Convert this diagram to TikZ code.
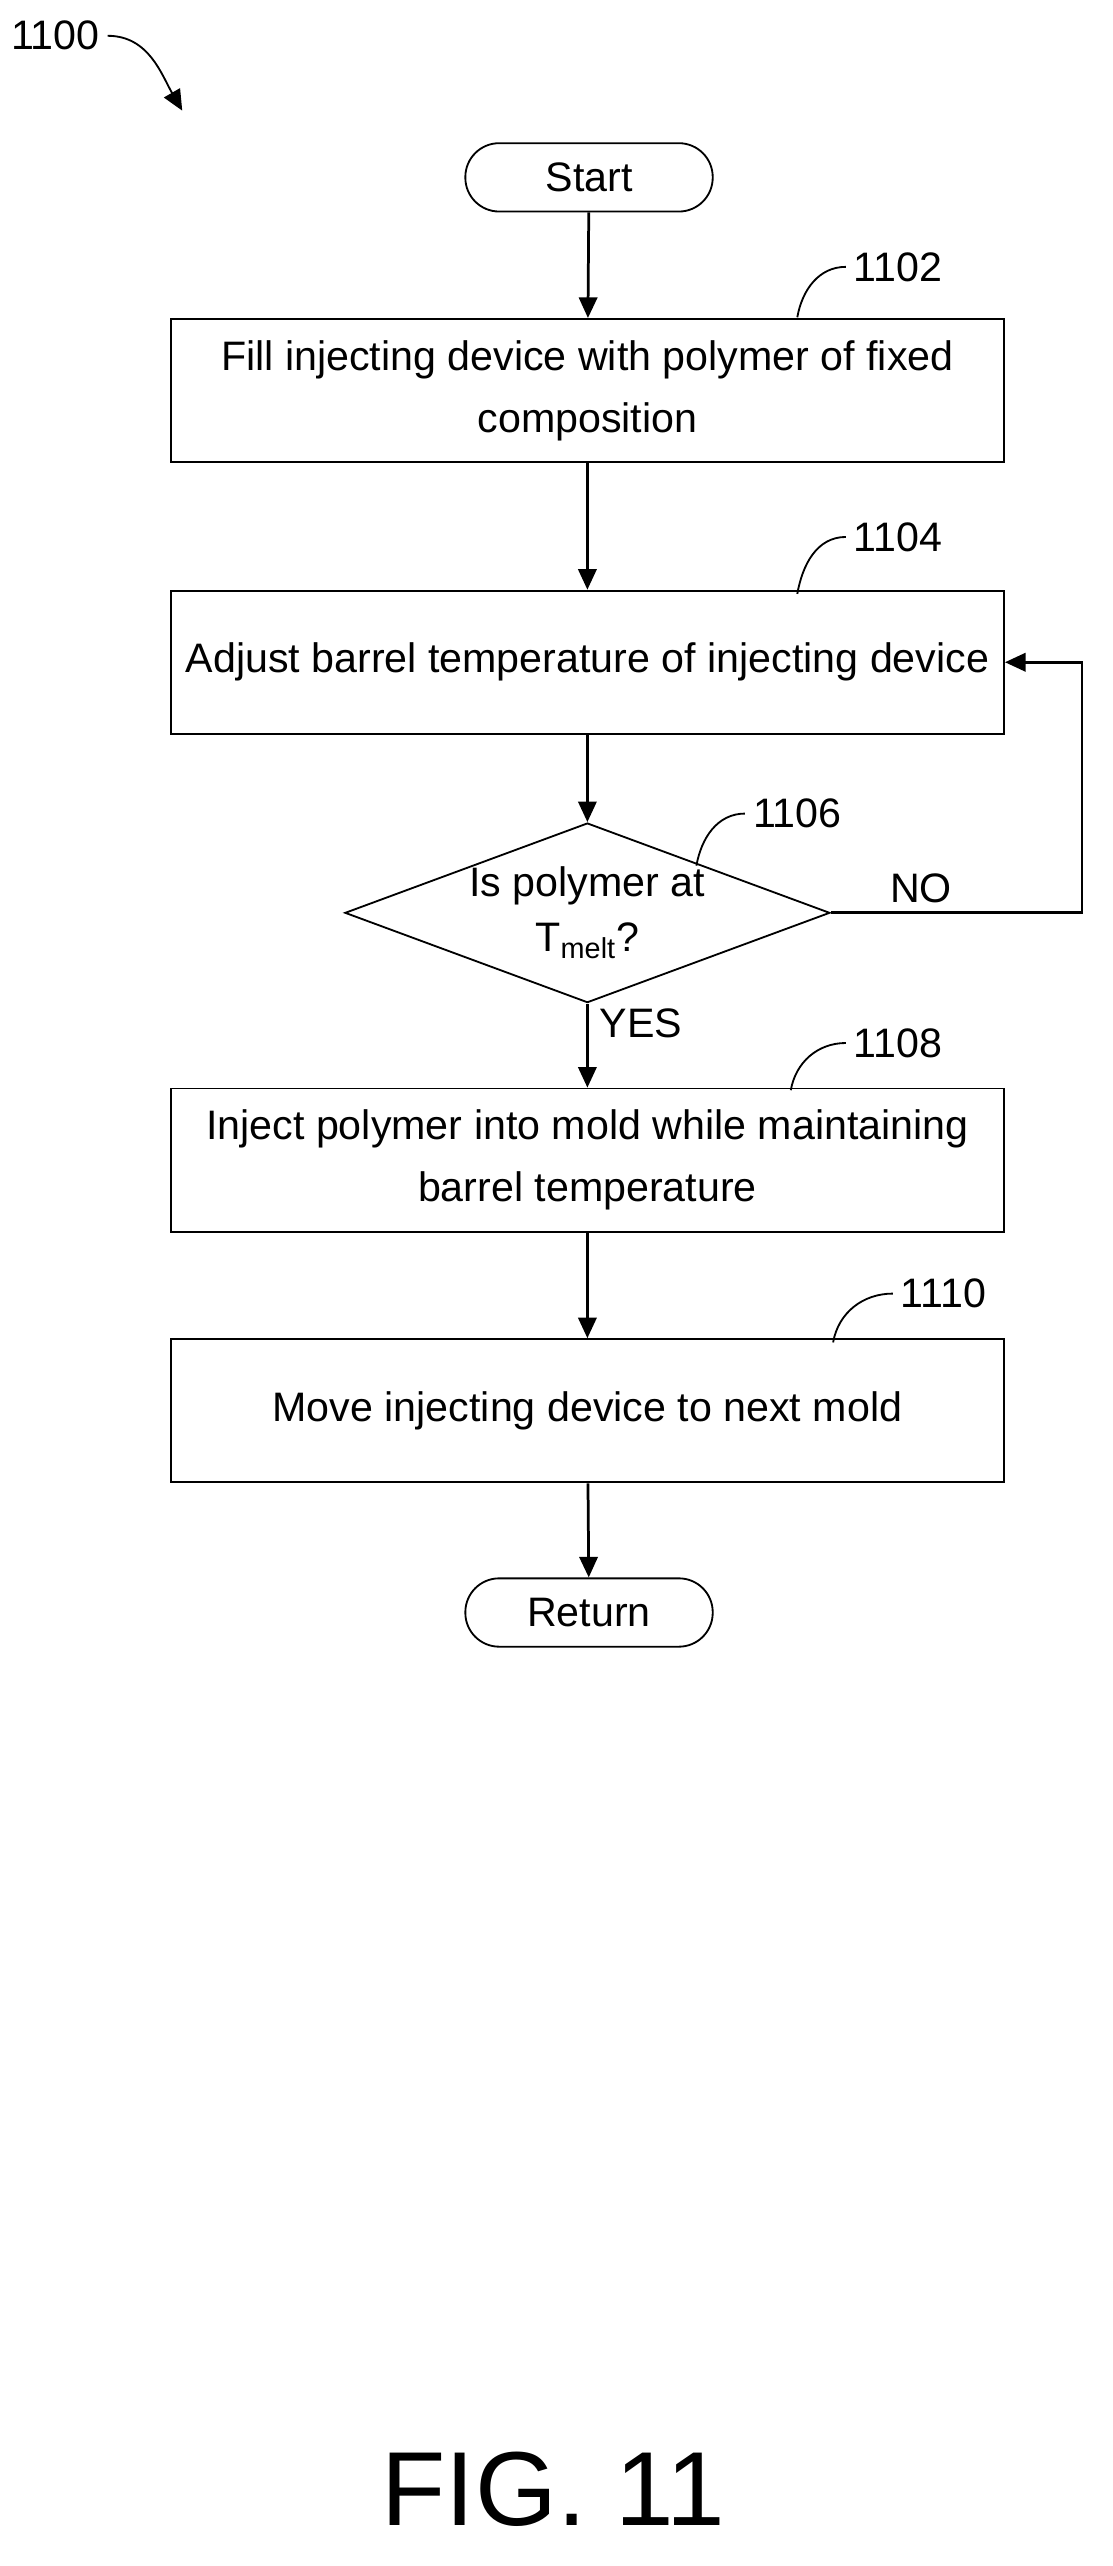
\documentclass[tikz,border=0pt]{standalone}
\usepackage{fontspec}
\setmainfont{Liberation Sans}
\usetikzlibrary{positioning, calc, shapes.geometric, arrows.meta}

\begin{document}
\begin{tikzpicture}[x=0.025cm, y=-0.025cm,
		StepNode/.style={rectangle, draw, thick, minimum width=12.8cm, minimum height=2.2cm, align=center, font=\fontsize{18}{27}\selectfont},
		TermNode/.style={rectangle, rounded corners=0.52cm, draw, thick, minimum width=3.8cm, minimum height=1.05cm, font=\fontsize{18}{22}\selectfont},
		TestNode/.style={diamond, draw, thick, aspect=2.7, inner sep=0pt, minimum width=6.6cm, minimum height=2.43cm, align=center, font=\fontsize{18}{24}\selectfont},
		RefLabel/.style={font=\fontsize{18}{22}\selectfont},
		Flow/.style={very thick, -{Triangle[length=9pt, width=8pt]}}]

			\useasboundingbox (0,0) rectangle (684,1577);

			\node[TermNode] (Start) at (362,109) {Start};
			\node[StepNode] (S1102) at (361,240) {Fill injecting device with polymer of fixed\\composition};
			\node[StepNode] (S1104) at (361,407) {Adjust barrel temperature of injecting device};
			\node[TestNode] (D1106) at (361,561) {Is polymer at\\T\textsubscript{melt}?};
			\node[StepNode] (S1108) at (361,713) {Inject polymer into mold while maintaining\\barrel temperature};
			\node[StepNode] (S1110) at (361,867) {Move injecting device to next mold};
			\node[TermNode] (Return) at (362,991) {Return};

			\draw[Flow] (Start) to (S1102);
			\draw[Flow] (S1102) to (S1104);
			\draw[Flow] (S1104) to (D1106);
			\draw[Flow] (D1106) to (S1108);
			\draw[Flow] (S1108) to (S1110);
			\draw[Flow] (S1110) to (Return);

			\coordinate (Loop) at (665,561);
			\draw[Flow] (D1106.east) -- (Loop) |- (S1104.east);
			\node[RefLabel] (No) at (566,546) {NO};
			\node[RefLabel] (Yes) at (394,629) {YES};

			\node[RefLabel] (L1100) at (34,22) {1100};
			\coordinate (A1100) at (112,68);
			\draw[thick, -{Triangle[length=9pt, width=8pt]}] (L1100.east) to[out=0, in=120] (A1100);

			\node[RefLabel] (L1102) at (552,164) {1102};
			\draw[thick] (L1102.west) to[out=180, in=80] (490,195);
			\node[RefLabel] (L1104) at (552,330) {1104};
			\draw[thick] (L1104.west) to[out=180, in=80] (490,365);
			\node[RefLabel] (L1106) at (490,500) {1106};
			\draw[thick] (L1106.west) to[out=180, in=80] (428,532);
			\node[RefLabel] (L1108) at (552,641) {1108};
			\draw[thick] (L1108.west) to[out=180, in=80] (486,670);
			\node[RefLabel] (L1110) at (580,795) {1110};
			\draw[thick] (L1110.west) to[out=180, in=80] (512,825);

			\node[font=\fontsize{46}{50}\selectfont] (Fig) at (340,1530) {FIG. 11};
		\end{tikzpicture}
\end{document}
